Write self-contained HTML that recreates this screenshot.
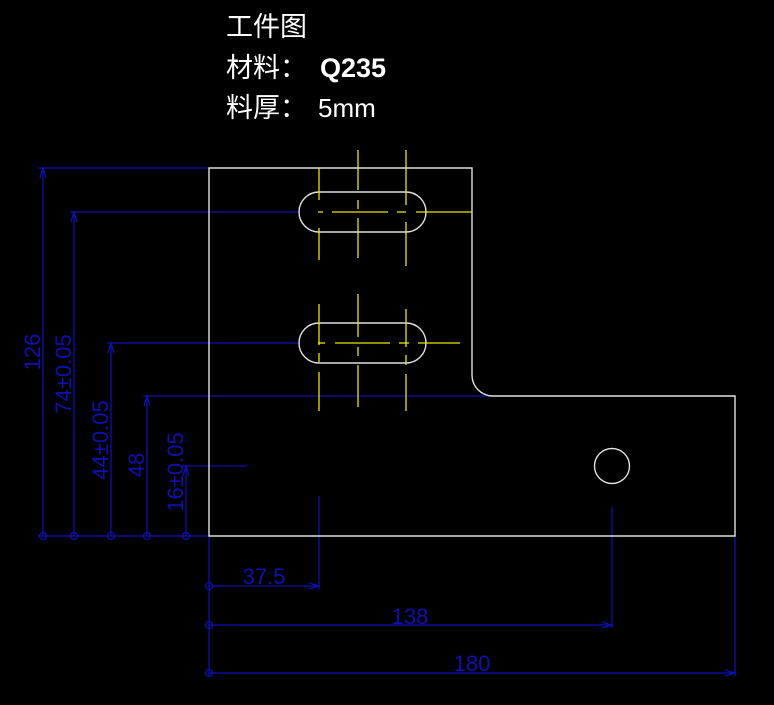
<!DOCTYPE html>
<html><head><meta charset="utf-8"><style>
html,body{margin:0;padding:0;background:#000;}
svg{display:block;}
.t{font-family:"Liberation Sans","Noto Sans CJK SC",sans-serif;fill:#fff;}
.d{font-family:"Liberation Sans",sans-serif;fill:#1010b0;font-size:22px;}
</style></head><body>
<svg width="774" height="705" viewBox="0 0 774 705" xmlns="http://www.w3.org/2000/svg">
<rect width="774" height="705" fill="#000"/>
<text class="t" x="226" y="36" font-size="27">工件图</text>
<text class="t" x="226" y="77" font-size="27">材料：</text>
<text class="t" x="320" y="77" font-size="27" font-weight="bold">Q235</text>
<text class="t" x="226" y="117" font-size="27">料厚：</text>
<text class="t" x="318" y="117" font-size="26" fill="#ddd">5mm</text>

<g stroke="#1010b0" stroke-width="1.3" fill="none">
<line x1="38" y1="168" x2="209" y2="168"/>
<line x1="70" y1="212" x2="300" y2="212"/>
<line x1="107" y1="343" x2="300" y2="343"/>
<line x1="143" y1="396" x2="493" y2="396"/>
<line x1="182" y1="466" x2="247" y2="466"/>
<line x1="43" y1="168" x2="43" y2="536"/>
<line x1="74" y1="212" x2="74" y2="536"/>
<line x1="111" y1="343" x2="111" y2="536"/>
<line x1="147" y1="396" x2="147" y2="536"/>
<line x1="186" y1="466" x2="186" y2="536"/>
<line x1="38" y1="536" x2="209" y2="536"/>
<circle cx="43" cy="536" r="3.5"/><circle cx="74" cy="536" r="3.5"/><circle cx="111" cy="536" r="3.5"/><circle cx="147" cy="536" r="3.5"/><circle cx="186" cy="536" r="3.5"/>
<path d="M40,178 L43,168 L46,178 M71,222 L74,212 L77,222 M108,353 L111,343 L114,353 M144,406 L147,396 L150,406 M183,476 L186,466 L189,476"/>
<line x1="209" y1="536" x2="209" y2="676"/>
<line x1="319" y1="496" x2="319" y2="589"/>
<line x1="612" y1="507" x2="612" y2="628"/>
<line x1="735" y1="536" x2="735" y2="676"/>
<line x1="209" y1="586" x2="319" y2="586"/>
<line x1="209" y1="625" x2="612" y2="625"/>
<line x1="209" y1="673" x2="735" y2="673"/>
<circle cx="209" cy="586" r="3.5"/><circle cx="209" cy="625" r="3.5"/><circle cx="209" cy="673" r="3.5"/>
<path d="M309,583 L319,586 L309,589 M602,622 L612,625 L602,628 M725,670 L735,673 L725,676"/>
</g>
<g class="d">
<text transform="translate(43,352) rotate(-90)" text-anchor="middle" dy="-3">126</text>
<text transform="translate(74,374) rotate(-90)" text-anchor="middle" dy="-3">74±0.05</text>
<text transform="translate(111,440) rotate(-90)" text-anchor="middle" dy="-3">44±0.05</text>
<text transform="translate(147,465) rotate(-90)" text-anchor="middle" dy="-3">48</text>
<text transform="translate(186,472) rotate(-90)" text-anchor="middle" dy="-3">16±0.05</text>
<text x="264" y="584" text-anchor="middle">37.5</text>
<text x="410" y="624" text-anchor="middle">138</text>
<text x="472" y="671" text-anchor="middle">180</text>
</g>

<g stroke="#e0e0e0" stroke-width="1.4" fill="none">
<path d="M209,168 L472,168 L472,375 A21,21 0 0 0 493,396 L735,396 L735,536 L209,536 Z"/>
<rect x="299" y="192" width="127" height="40" rx="20"/>
<rect x="299" y="323" width="127" height="40" rx="20"/>
<circle cx="612" cy="466" r="17.5"/>
</g>

<g stroke="#e8e800" stroke-width="1.3" fill="none">
<line x1="319" y1="168" x2="319" y2="200"/><line x1="319" y1="228" x2="319" y2="260"/>
<line x1="358" y1="150" x2="358" y2="190"/><line x1="358" y1="200" x2="358" y2="209"/><line x1="358" y1="218" x2="358" y2="258"/>
<line x1="406" y1="150" x2="406" y2="205"/><line x1="406" y1="222" x2="406" y2="266"/>
<line x1="318" y1="212" x2="323" y2="212"/><line x1="332" y1="212" x2="388" y2="212"/><line x1="397" y1="212" x2="406" y2="212"/><line x1="416" y1="212" x2="472" y2="212"/>
<line x1="319" y1="304" x2="319" y2="345"/><line x1="319" y1="353" x2="319" y2="362"/><line x1="319" y1="372" x2="319" y2="411"/>
<line x1="358" y1="294" x2="358" y2="337"/><line x1="358" y1="347" x2="358" y2="356"/><line x1="358" y1="365" x2="358" y2="407"/>
<line x1="406" y1="309" x2="406" y2="347"/><line x1="406" y1="355" x2="406" y2="365"/><line x1="406" y1="374" x2="406" y2="411"/>
<line x1="318" y1="343" x2="325" y2="343"/><line x1="335" y1="343" x2="390" y2="343"/><line x1="399" y1="343" x2="409" y2="343"/><line x1="418" y1="343" x2="460" y2="343"/>
</g>
</svg>
</body></html>
